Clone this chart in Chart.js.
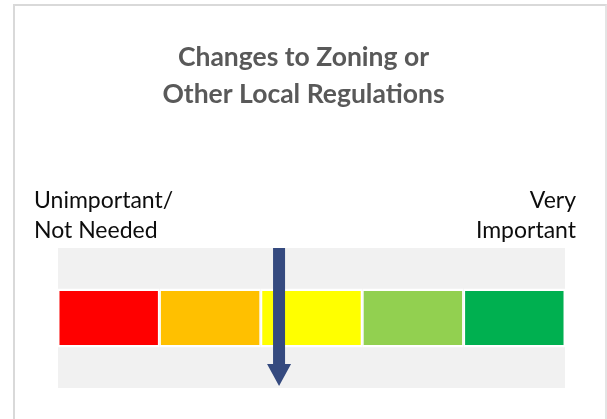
<!DOCTYPE html>
<html>
<head>
<meta charset="utf-8">
<script src="https://cdn.jsdelivr.net/npm/chart.js@4.4.1/dist/chart.umd.min.js"></script>
<style>
  html, body { margin: 0; padding: 0; background: #ffffff; }
  #frame {
    position: absolute; left: 13px; top: 4px; width: 594px; height: 440px;
    border: 2px solid #d9d9d9; border-right-color: #e4e4e4; border-bottom: none;
    box-sizing: border-box;
  }
  #ratingChart { position: absolute; left: 0; top: 0; }
</style>
</head>
<body>
<div id="frame"></div>
<canvas id="ratingChart" width="607" height="419"></canvas>
<script>
// Chart data
const categories = ['Changes to Zoning or Other Local Regulations'];
const titleLines = ['Changes to Zoning or', 'Other Local Regulations'];
const lowLabel = ['Unimportant/', 'Not Needed'];
const highLabel = ['Very', 'Important'];
const segmentNames = ['Unimportant', 'Somewhat Unimportant', 'Neutral', 'Somewhat Important', 'Very Important'];
const segmentWidths = [1, 1, 1, 1, 1];
const ratingValue = [2.18];

// Colors for the five segments
const segmentColors = ['#ff0000', '#ffc000', '#ffff00', '#92d050', '#00b050'];

// Gray band behind the bars
const bandPlugin = {
  id: 'band',
  beforeDatasetsDraw(chart) {
    const { ctx, chartArea } = chart;
    ctx.save();
    ctx.fillStyle = '#f1f1f1';
    ctx.fillRect(chartArea.left, chartArea.top, chartArea.right - chartArea.left, chartArea.bottom - chartArea.top);
    ctx.restore();
  }
};

// Arrow pointing at the rating, plus the end labels
const markerPlugin = {
  id: 'marker',
  afterDatasetsDraw(chart) {
    const { ctx, chartArea } = chart;
    const x = chart.scales.x.getPixelForValue(ratingValue[0]);
    const top = chartArea.top;
    const tip = chartArea.bottom - 2;
    const headLen = 22;
    ctx.save();
    ctx.fillStyle = '#354a7f';
    ctx.beginPath();
    ctx.moveTo(x - 6, top);
    ctx.lineTo(x + 6, top);
    ctx.lineTo(x + 6, tip - headLen);
    ctx.lineTo(x + 12, tip - headLen);
    ctx.lineTo(x, tip);
    ctx.lineTo(x - 12, tip - headLen);
    ctx.lineTo(x - 6, tip - headLen);
    ctx.closePath();
    ctx.fill();

    ctx.font = '23px Lato';
    ctx.fillStyle = '#0d0d0d';
    ctx.textBaseline = 'alphabetic';
    ctx.textAlign = 'left';
    lowLabel.forEach((t, i) => ctx.fillText(t, 34, 208 + i * 30));
    ctx.textAlign = 'right';
    highLabel.forEach((t, i) => ctx.fillText(t, 576, 208 + i * 30));
    ctx.restore();
  }
};

const ctx = document.getElementById('ratingChart').getContext('2d');

new Chart(ctx, {
  type: 'bar',
  data: {
    labels: categories,
    datasets: segmentNames.map((name, i) => ({
      label: name,
      data: [segmentWidths[i]],
      backgroundColor: segmentColors[i],
      borderColor: '#ffffff',
      borderWidth: { top: 2.5, bottom: 2.5, left: 1.5, right: 1.5 },
      borderSkipped: false,
      barPercentage: 0.42,
      categoryPercentage: 1
    }))
  },
  options: {
    indexAxis: 'y',
    responsive: false,
    animation: false,
    devicePixelRatio: 1,
    layout: { padding: { left: 0, right: 0, top: 0, bottom: 31 } },
    scales: {
      x: { type: 'linear', min: 0, max: 5, stacked: true, display: false },
      y: {
        stacked: true,
        grid: { display: false },
        border: { display: false },
        ticks: { display: false },
        afterFit: s => { s.width = 58; }
      },
      yRight: {
        type: 'category',
        labels: categories,
        position: 'right',
        grid: { display: false },
        border: { display: false },
        ticks: { display: false },
        afterFit: s => { s.width = 42; }
      }
    },
    plugins: {
      legend: { display: false },
      tooltip: { enabled: false },
      title: {
        display: true,
        text: titleLines,
        color: '#595959',
        font: { family: 'Lato', size: 26.5, weight: 'bold', lineHeight: 37 / 26.5 },
        padding: { top: 39, bottom: 135 }
      }
    }
  },
  plugins: [bandPlugin, markerPlugin]
});
</script>
</body>
</html>
